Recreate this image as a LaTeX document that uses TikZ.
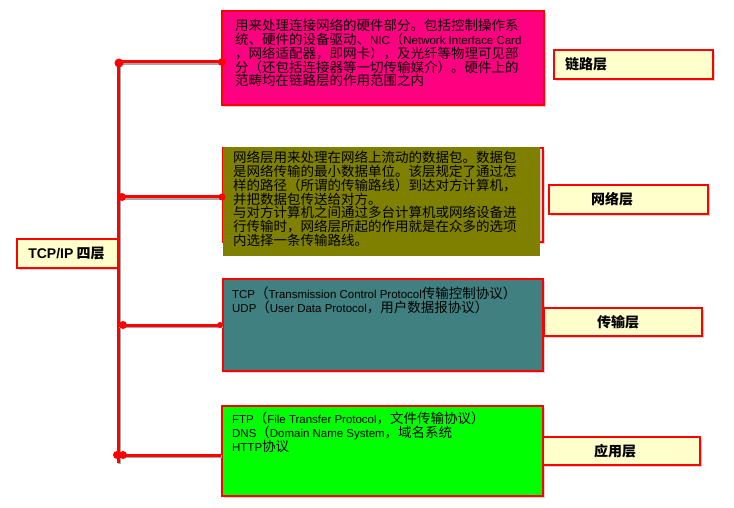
\documentclass[tikz,border=0pt]{standalone}
\usepackage{fontspec}
\newfontfamily\cjk{Noto Sans CJK SC}
\newfontfamily\lat[Scale=0.85]{Liberation Sans}
\newcommand{\en}[1]{{\lat #1}}
\usetikzlibrary{positioning,shadows,arrows.meta}
\definecolor{linkpink}{HTML}{FF0080}
\definecolor{netolive}{HTML}{808000}
\definecolor{transteal}{HTML}{408080}
\definecolor{appgreen}{HTML}{00FF00}
\definecolor{tagyellow}{HTML}{FFFFCC}

\begin{document}
\begin{tikzpicture}[x=1pt, y=-1pt,
  shade box/.style = {drop shadow={shadow xshift=2pt, shadow yshift=-2pt, opacity=0.35}},
  layer/.style = {draw=red, line width=2pt, anchor=north west, inner sep=0pt, shade box},
  tag/.style = {draw=red, line width=2pt, fill=tagyellow, anchor=north west, inner sep=0pt, shade box},
  tagtext/.style = {inner sep=0pt, font=\cjk\bfseries\fontsize{14}{14}\selectfont},
  body/.style = {anchor=north west, inner sep=0pt, align=left, font=\cjk\fontsize{13.5}{13.8}\selectfont},
  wire/.style = {draw=red, line width=3pt,
    preaction={draw=black!35, line width=3pt, transform canvas={xshift=1.2pt, yshift=-1.2pt}}}]
\useasboundingbox (0,0) rectangle (734,508);

% the four layers
\node[layer, fill=linkpink, minimum width=322, minimum height=94] (link) at (221,10) {};
\node[layer, minimum width=320, minimum height=94] (net) at (222,147) {};
\fill[netolive] (223,147) rectangle (540,256);
\node[layer, fill=transteal, minimum width=320, minimum height=92] (trans) at (222,278) {};
\node[layer, fill=appgreen, minimum width=321, minimum height=90] (app) at (221,405) {};

\node[body] (linktxt) at ([xshift=14pt, yshift=-8.9pt]link.north west)
  {用来处理连接网络的硬件部分。包括控制操作系\\
   统、硬件的设备驱动、\en{NIC}（\en{Network Interface Card}\\
   ，网络适配器，即网卡），及光纤等物理可见部\\
   分（还包括连接器等一切传输媒介）。硬件上的\\
   范畴均在链路层的作用范围之内};
\node[body] (nettxt) at ([xshift=11pt, yshift=-3.9pt]net.north west)
  {网络层用来处理在网络上流动的数据包。数据包\\
   是网络传输的最小数据单位。该层规定了通过怎\\
   样的路径（所谓的传输路线）到达对方计算机，\\
   并把数据包传送给对方。\\
   与对方计算机之间通过多台计算机或网络设备进\\
   行传输时，网络层所起的作用就是在众多的选项\\
   内选择一条传输路线。};
\node[body] (transtxt) at ([xshift=10pt, yshift=-8.9pt]trans.north west)
  {\en{TCP}（\en{Transmission Control Protocol}传输控制协议）\\
   \en{UDP}（\en{User Data Protocol}，用户数据报协议）};
\node[body] (apptxt) at ([xshift=11pt, yshift=-6.9pt]app.north west)
  {\en{FTP}（\en{File Transfer Protocol}，文件传输协议）\\
   \en{DNS}（\en{Domain Name System}，域名系统\\
   \en{HTTP}协议};

% name tags
\node[tag, minimum width=102, minimum height=29] (root) at (16,238) {};
\node[tagtext] (roottxt) at ([xshift=-1.5pt]root.center)
  {{\lat\bfseries\fontsize{16.5}{16}\selectfont TCP/IP} 四层};
\node[tag, minimum width=159, minimum height=29] (tlink) at (553,49) {};
\node[tagtext, right=12pt of tlink.west] (tlinktxt) {链路层};
\node[tag, minimum width=159, minimum height=29] (tnet) at (548,184) {};
\node[tagtext, right=43pt of tnet.west] (tnettxt) {网络层};
\node[tag, minimum width=158, minimum height=28] (ttrans) at (543,307) {};
\node[tagtext, right=54pt of ttrans.west] (ttranstxt) {传输层};
\node[tag, minimum width=157, minimum height=28] (tapp) at (542,436) {};
\node[tagtext, right=52pt of tapp.west] (tapptxt) {应用层};

% trunk and branches
\coordinate (top) at (118,62);
\coordinate (bot) at (118,463);
\coordinate (b1) at (118,62);
\coordinate (b2) at (118,197);
\coordinate (b3) at (118,325);
\coordinate (b4) at (118,455);
\draw[wire] (top) -- (bot);
\draw[wire] (b1) -- (b1 -| link.west);
\draw[wire] (b2) -- (b2 -| net.west);
\draw[wire] (b3) -- (b3 -| trans.west);
\draw[wire] (b4) -- (b4 -| app.west);
\fill[red] (119,63) circle (4.5) (222,62) circle (4);
\fill[red] (122,197) circle (4) (222,197) circle (3.5);
\fill[red] (123,325) circle (4) (220,325) circle (3);
\fill[red] (117,455) circle (4) (123,455) circle (4);
\end{tikzpicture}
\end{document}
